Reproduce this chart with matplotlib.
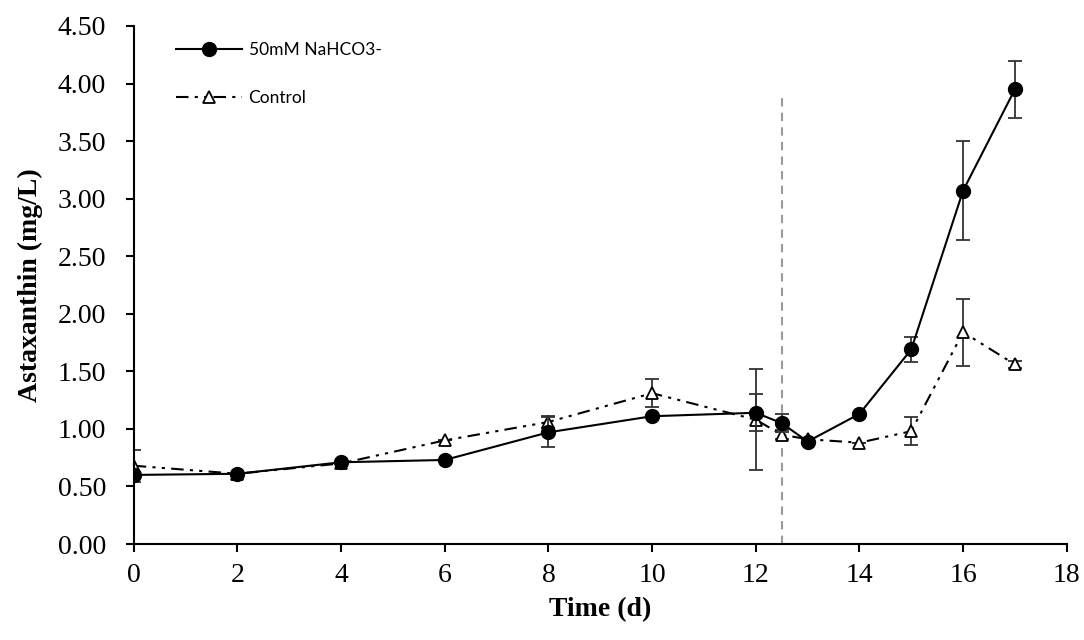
import matplotlib
matplotlib.use('Agg')
import numpy as np
import matplotlib.pyplot as plt
from matplotlib.lines import Line2D
from matplotlib.ticker import FormatStrFormatter

# data
days = [0, 2, 4, 6, 8, 10, 12, 12.5, 13, 14, 15, 16, 17]
bicarb = [0.60, 0.61, 0.71, 0.73, 0.97, 1.11, 1.14, 1.05, 0.89, 1.13, 1.69, 3.07, 3.95]
bicarb_err = [0.0, 0.0, 0.0, 0.0, 0.13, 0.0, 0.16, 0.08, 0.0, 0.0, 0.11, 0.43, 0.25]
control = [0.68, 0.61, 0.70, 0.90, 1.06, 1.31, 1.08, 0.95, 0.91, 0.88, 0.98, 1.84, 1.56]
control_err = [0.14, 0.0, 0.0, 0.0, 0.05, 0.12, 0.44, 0.04, 0.0, 0.0, 0.12, 0.29, 0.03]
shift_day = 12.5
shift_top = 3.92

serif = 'Liberation Serif'
ctrl_dash = (6, 3, 1.5, 3, 1.5, 3)

fig = plt.figure(figsize=(10.84, 6.4), dpi=100)
ax = fig.add_axes([0.1234, 0.15, 0.8607, 0.8094])

ax.plot([shift_day, shift_day], [0, shift_top], color='#9a9a9a', lw=1.5,
        dashes=(4, 3), zorder=1)

ax.errorbar(days, bicarb, yerr=bicarb_err, color='black', lw=1.5, marker='o',
            markersize=10, ecolor='#333333', elinewidth=1.3, capsize=5,
            capthick=1.3, zorder=3)
ax.errorbar(days, control, yerr=control_err, color='black', lw=1.5,
            dashes=ctrl_dash, marker='^', markersize=9,
            markerfacecolor='white', markeredgewidth=1.3, ecolor='#333333',
            elinewidth=1.3, capsize=5, capthick=1.3, zorder=2)

ax.set_xlim(0, 18)
ax.set_ylim(0, 4.5)
ax.set_xticks(np.arange(0, 19, 2))
ax.set_yticks(np.arange(0, 4.51, 0.5))
ax.yaxis.set_major_formatter(FormatStrFormatter('%.2f'))

for s in ['top', 'right']:
    ax.spines[s].set_visible(False)
for s in ['left', 'bottom']:
    ax.spines[s].set_linewidth(1.5)

ax.tick_params(axis='both', direction='out', width=1.5, labelsize=20)
ax.tick_params(axis='x', length=6, pad=8)
ax.tick_params(axis='y', length=6, pad=14)
for lab in ax.get_xticklabels() + ax.get_yticklabels():
    lab.set_fontfamily(serif)

ax.set_xlabel('Time (d)', fontfamily=serif, fontweight='bold', fontsize=20, labelpad=6)
ax.set_ylabel('Astaxanthin (mg/L)', fontfamily=serif, fontweight='bold', fontsize=20)
ax.yaxis.set_label_coords(-0.097, 0.5)

handles = [
    Line2D([], [], color='black', lw=1.5, marker='o', markersize=10),
    Line2D([], [], color='black', lw=1.5, dashes=ctrl_dash, marker='^',
           markersize=9, markerfacecolor='white', markeredgewidth=1.3),
]
ax.legend(handles, ['50mM NaHCO3-', 'Control'], loc='upper left',
          bbox_to_anchor=(160 / 1084, 1 - 26 / 640), bbox_transform=fig.transFigure,
          frameon=False, prop={'family': 'Lato', 'size': 12.5},
          handlelength=3.8, handletextpad=0.4, labelspacing=1.85)

fig.savefig('out.png', dpi=100)
